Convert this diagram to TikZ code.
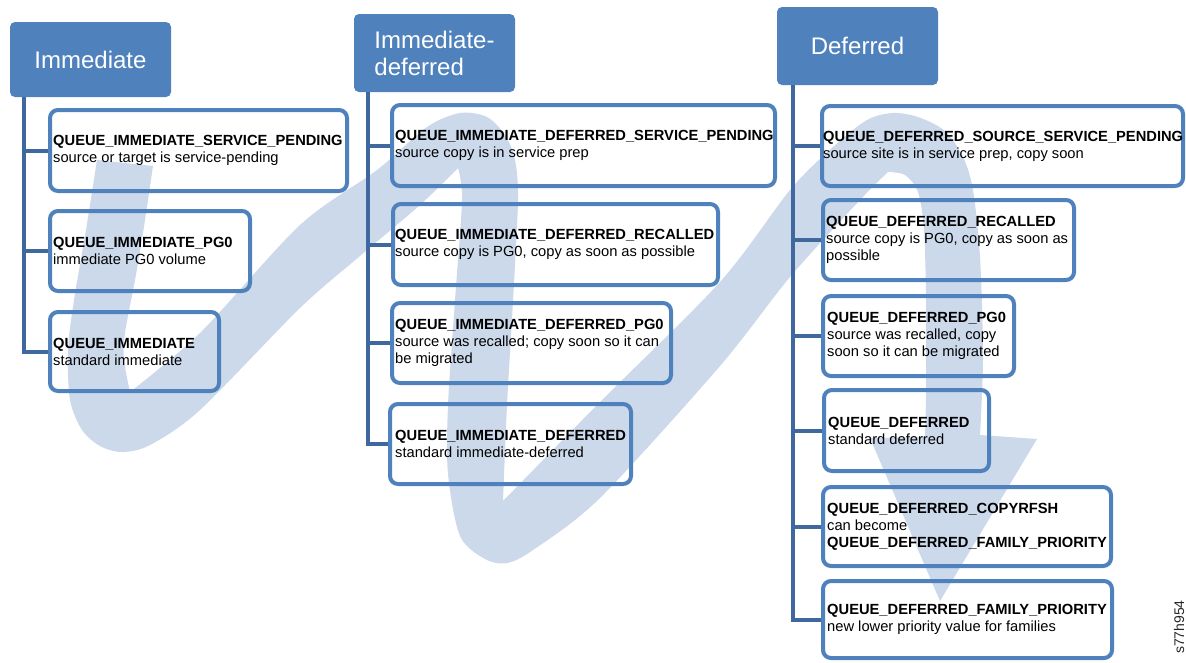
\documentclass[tikz,border=0pt]{standalone}
\usepackage{fontspec}
\setmainfont{Liberation Sans}
\usetikzlibrary{fit}
\definecolor{hdrblue}{RGB}{79,129,189}
\definecolor{boxblue}{RGB}{79,129,189}
\definecolor{trunkblue}{RGB}{62,104,158}
\definecolor{swooshblue}{RGB}{203,217,235}
\begin{document}
\begin{tikzpicture}[x=1pt,y=-1pt,
  header/.style={fill=hdrblue, rounded corners=5pt, inner sep=0pt, text=white,
                 minimum width=161pt, font=\fontsize{24}{27}\selectfont, align=left},
  qbox/.style={draw=boxblue, line width=4pt, rounded corners=8pt, inner sep=0pt},
  qtext/.style={anchor=west, inner sep=0pt, align=left,
                font=\fontsize{14.7}{17}\selectfont},
  conn/.style={draw=trunkblue, line width=4pt},
  swoosh/.style={fill=swooshblue}]
\useasboundingbox (0,0) rectangle (1186,662);

% background swoosh: two loops and a down arrow
\fill[swoosh] (153,166) -- (97,160)
  -- plot[smooth] coordinates {(97,160) (86,230) (74,300) (68,350) (70,400) (82,430)
       (100,446) (122,452) (150,445) (200,410) (300,308) (360,256) (420,205) (458,168)}
  -- plot[smooth] coordinates {(458,168) (462,200) (455,300) (448,405) (448,474)
       (460,536) (485,559) (507,563) (533,550) (600,498) (720,366) (790,277) (860,200) (888,172)}
  -- plot[smooth] coordinates {(888,172) (905,175) (918,192) (924,230) (926,300)
       (926,390) (925,437)}
  -- (870,438) -- (940,601) -- (1037,439) -- (980,435)
  -- plot[smooth] coordinates {(980,435) (983,357) (980,257) (973,190) (963,157)
       (945,131) (918,117) (893,113) (867,120) (833,147) (790,190) (720,282) (600,402) (503,501)}
  -- plot[smooth] coordinates {(503,501) (507,405) (513,301) (518,200) (515,160)
       (505,135) (487,117) (460,113) (427,127) (377,170) (300,225) (200,333) (130,392)}
  -- plot[smooth] coordinates {(130,392) (124,360) (125,333) (135,280) (143,233) (153,166)}
  -- cycle;

% column headers
\node[header, minimum height=75pt] (hI) at (90.5,59.5) {Immediate};
\node[header, minimum height=78pt] (hID) at (434.5,53) {Immediate-\\deferred};
\node[header, minimum height=78pt] (hD) at (857.5,46) {Deferred};

% Immediate queues
\node[qbox, fit={(50,110) (347,191)}] (b1) {};
\node[qbox, fit={(50,211) (250,291)}] (b2) {};
\node[qbox, fit={(50,312) (219,391)}] (b3) {};
\node[qtext] (b1t) at ([xshift=5pt]b1.west) {\textbf{QUEUE\_IMMEDIATE\_SERVICE\_PENDING}\\source or target is service-pending};
\node[qtext] (b2t) at ([xshift=5pt]b2.west) {\textbf{QUEUE\_IMMEDIATE\_PG0}\\immediate PG0 volume};
\node[qtext] (b3t) at ([xshift=5pt]b3.west) {\textbf{QUEUE\_IMMEDIATE}\\standard immediate};

% Immediate-deferred queues
\node[qbox, fit={(392,105) (775,186)}] (c1) {};
\node[qbox, fit={(393,204) (718,285)}] (c2) {};
\node[qbox, fit={(392,303) (671,383)}] (c3) {};
\node[qbox, fit={(390,404) (631,484)}] (c4) {};
\node[qtext] (c1t) at ([xshift=5pt]c1.west) {\textbf{QUEUE\_IMMEDIATE\_DEFERRED\_SERVICE\_PENDING}\\source copy is in service prep};
\node[qtext] (c2t) at ([xshift=4pt]c2.west) {\textbf{QUEUE\_IMMEDIATE\_DEFERRED\_RECALLED}\\source copy is PG0, copy as soon as possible};
\node[qtext] (c3t) at ([xshift=5pt]c3.west) {\textbf{QUEUE\_IMMEDIATE\_DEFERRED\_PG0}\\source was recalled; copy soon so it can\\be migrated};
\node[qtext] (c4t) at ([xshift=7pt]c4.west) {\textbf{QUEUE\_IMMEDIATE\_DEFERRED}\\standard immediate-deferred};

% Deferred queues
\node[qbox, fit={(822,106) (1183,186)}] (d1) {};
\node[qbox, fit={(823,200) (1074,280)}] (d2) {};
\node[qbox, fit={(823,296) (1014,376)}] (d3) {};
\node[qbox, fit={(824,390) (989,471)}] (d4) {};
\node[qbox, fit={(823,487) (1111,566)}] (d5) {};
\node[qbox, fit={(823,581) (1112,658)}] (d6) {};
\node[qtext] (d1t) at ([xshift=3pt]d1.west) {\textbf{QUEUE\_DEFERRED\_SOURCE\_SERVICE\_PENDING}\\source site is in service prep, copy soon};
\node[qtext] (d2t) at ([xshift=5pt]d2.west) {\textbf{QUEUE\_DEFERRED\_RECALLED}\\source copy is PG0, copy as soon as\\possible};
\node[qtext] (d3t) at ([xshift=6pt]d3.west) {\textbf{QUEUE\_DEFERRED\_PG0}\\source was recalled, copy\\soon so it can be migrated};
\node[qtext] (d4t) at ([xshift=6pt]d4.west) {\textbf{QUEUE\_DEFERRED}\\standard deferred};
\node[qtext] (d5t) at ([xshift=6pt]d5.west) {\textbf{QUEUE\_DEFERRED\_COPYRFSH}\\can become\\\textbf{QUEUE\_DEFERRED\_FAMILY\_PRIORITY}};
\node[qtext] (d6t) at ([xshift=6pt]d6.west) {\textbf{QUEUE\_DEFERRED\_FAMILY\_PRIORITY}\\new lower priority value for families};

% tree connectors
\foreach \b in {b1,b2,b3}
  \draw[conn] ([xshift=14pt]hI.south west) |- (\b.west);
\foreach \b in {c1,c2,c3,c4}
  \draw[conn] ([xshift=14pt]hID.south west) |- (\b.west);
\foreach \b in {d1,d2,d3,d4,d5,d6}
  \draw[conn] ([xshift=16pt]hD.south west) |- (\b.west);

% figure code
\node[font=\fontsize{14}{16}\selectfont, rotate=90, anchor=base east, inner sep=0pt, text=black!85] (code) at (1184,600) {s77h954};
\end{tikzpicture}
\end{document}
